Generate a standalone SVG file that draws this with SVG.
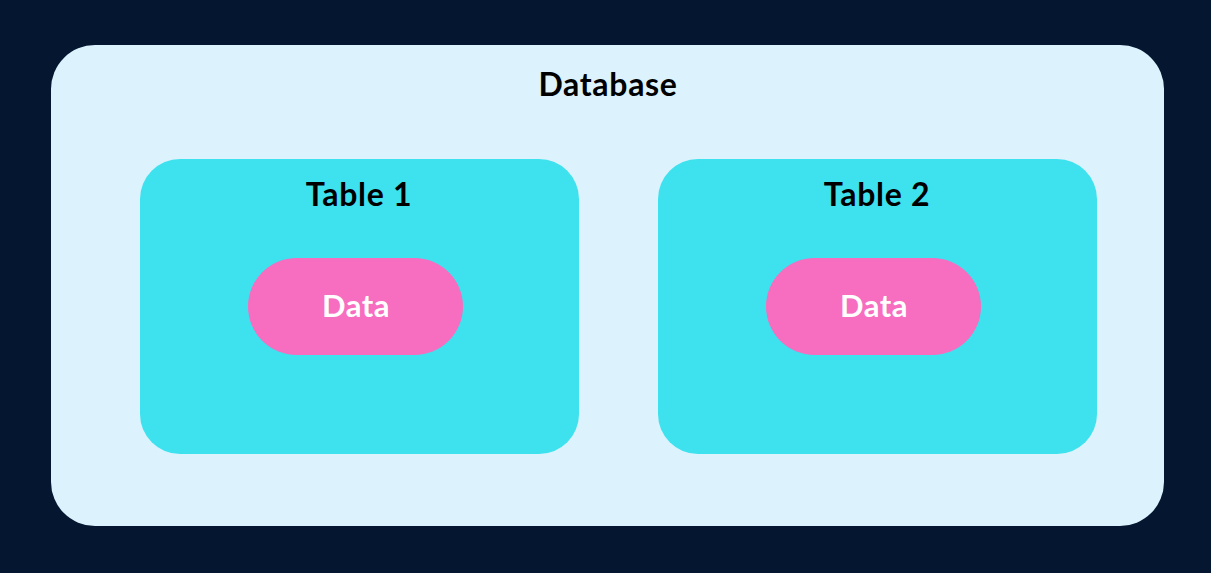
<svg xmlns="http://www.w3.org/2000/svg" width="1211" height="573" viewBox="0 0 1211 573">
<style>
.t{font-family:Lato,"Noto Sans",sans-serif;font-weight:bold;font-size:32px;letter-spacing:0.7px;text-anchor:middle;fill:#000}
.d{font-family:Lato,"Noto Sans",sans-serif;font-weight:bold;font-size:31px;letter-spacing:0.5px;text-anchor:middle;fill:#fff}
.tbl{fill:#3de2ee}
.pill{fill:#f76dbf}
</style>
<rect x="0" y="0" width="1211" height="573" fill="#041630"/>
<g id="database">
<rect x="51" y="45" width="1113" height="481" rx="44" fill="#dcf2fd"/>
<text class="t" x="608" y="96">Database</text>
</g>
<g id="table1">
<rect class="tbl" x="140" y="159" width="439" height="295" rx="40"/>
<text class="t" x="359" y="206">Table 1</text>
</g>
<g id="data1">
<rect class="pill" x="248" y="258" width="215" height="97" rx="48.5"/>
<text class="d" x="356" y="317">Data</text>
</g>
<g id="table2">
<rect class="tbl" x="658" y="159" width="439" height="295" rx="40"/>
<text class="t" x="877" y="206">Table 2</text>
</g>
<g id="data2">
<rect class="pill" x="766" y="258" width="215" height="97" rx="48.5"/>
<text class="d" x="874" y="317">Data</text>
</g>
<g id="connectors"></g>
</svg>
